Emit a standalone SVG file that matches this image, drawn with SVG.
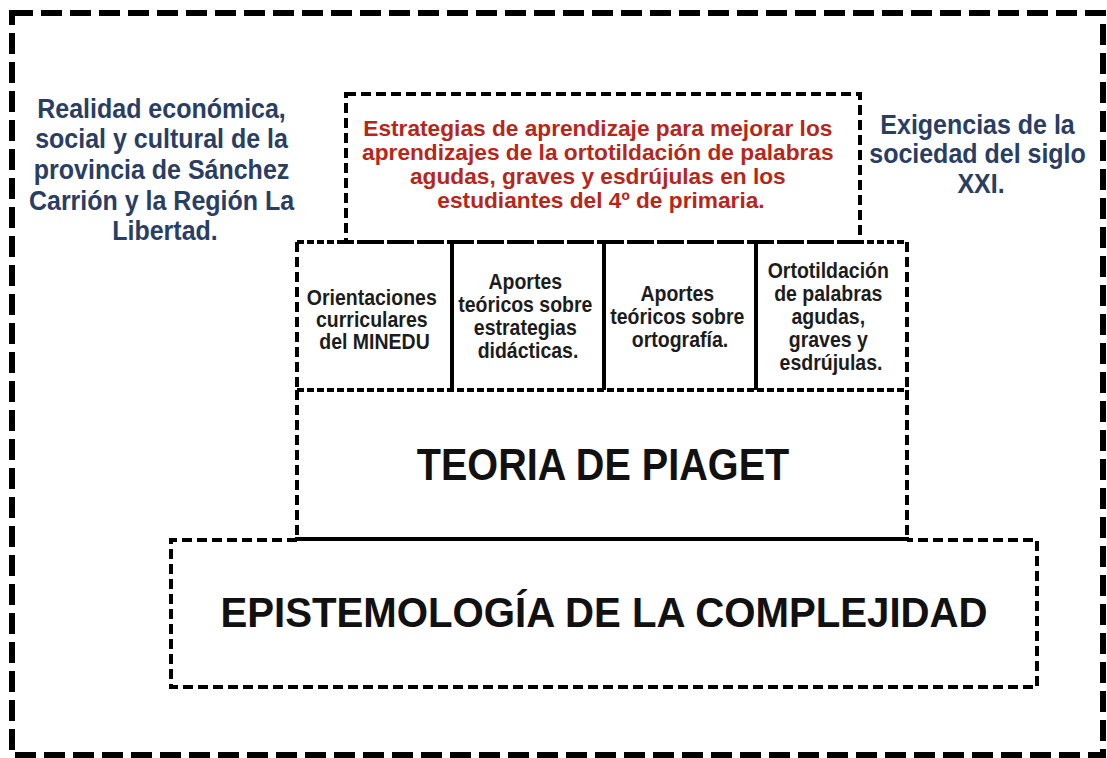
<svg xmlns="http://www.w3.org/2000/svg" width="1107" height="758" viewBox="0 0 1107 758">
<style>
.outer{fill:none;stroke:#000;stroke-width:6;stroke-dasharray:21 8}
.dash{fill:none;stroke:#000;stroke-width:4;stroke-dasharray:10 5}
.dense{fill:none;stroke:#000;stroke-width:4;stroke-dasharray:7 3}
.solid{fill:none;stroke:#000;stroke-width:4}
.t{font-family:"Liberation Sans",Arial,sans-serif;font-weight:bold;text-anchor:middle}
.blue{fill:#2a3e63;font-size:25px}
.red{fill:#b8261a;font-size:22.7px}
.mid{fill:#1c1c1c;font-size:19.5px}
.big{fill:#111;}
</style>
<rect width="1107" height="758" fill="#fff"/>
<rect id="frame" class="outer" x="12" y="13" width="1091" height="742"/>

<g id="contexto-izq">
<text class="t blue" transform="translate(165,118) scale(1,1.13)">
<tspan x="0" y="0">Realidad económica,</tspan>
<tspan x="0" y="27">social y cultural de la</tspan>
<tspan x="0" y="54">provincia de Sánchez</tspan>
<tspan x="0" y="81">Carrión y la Región La</tspan>
<tspan x="0" y="108">Libertad.</tspan>
</text>
</g>

<g id="contexto-der">
<text class="t blue" transform="translate(981,134) scale(1,1.13)">
<tspan x="0" y="0">Exigencias de la</tspan>
<tspan x="0" y="26">sociedad del siglo</tspan>
<tspan x="0" y="52">XXI.</tspan>
</text>
</g>

<g id="objetivo">
<rect x="346" y="94" width="514" height="148" fill="#ffff00" class="dash"/>
<text class="t red">
<tspan x="601" y="136">Estrategias de aprendizaje para mejorar los</tspan>
<tspan x="601" y="160">aprendizajes de la ortotildación de palabras</tspan>
<tspan x="601" y="184">agudas, graves y esdrújulas en los</tspan>
<tspan x="601" y="208">estudiantes del 4º de primaria.</tspan>
</text>
</g>

<g id="piaget">
<path class="dash" d="M297,390 V538 M907,390 V538"/>
<path class="solid" d="M295,539 H909"/>
<text class="t big" font-size="39.6" transform="translate(603,480) scale(1,1.14)">TEORIA DE PIAGET</text>
</g>

<g id="epistemologia">
<path class="dash" d="M297,540 H171 V687 H1037 V540 H907"/>
<text class="t big" font-size="40.2" transform="translate(604,627) scale(1,1.06)">EPISTEMOLOGÍA DE LA COMPLEJIDAD</text>
</g>

<g id="fila-media">
<path class="dense" d="M297,242 H907 M297,390 H907"/>
<path class="dash" d="M297,242 V390 M907,242 V390"/>
</g>

<g id="orientaciones">
<text class="t mid" transform="translate(374.5,305) scale(1,1.12)">
<tspan x="0" y="0">Orientaciones</tspan>
<tspan x="0" y="19.8">curriculares</tspan>
<tspan x="0" y="39.6">del MINEDU</tspan>
</text>
</g>

<g id="aportes-estrategias">
<path class="solid" d="M452,242 V390"/>
<text class="t mid" transform="translate(528,289) scale(1,1.12)">
<tspan x="0" y="0">Aportes</tspan>
<tspan x="0" y="20.5">teóricos sobre</tspan>
<tspan x="0" y="41">estrategias</tspan>
<tspan x="0" y="61.5">didácticas.</tspan>
</text>
</g>

<g id="aportes-ortografia">
<path class="solid" d="M604,242 V390"/>
<text class="t mid" transform="translate(680,301) scale(1,1.12)">
<tspan x="0" y="0">Aportes</tspan>
<tspan x="0" y="20.5">teóricos sobre</tspan>
<tspan x="0" y="41">ortografía.</tspan>
</text>
</g>

<g id="ortotildacion">
<path class="solid" d="M756,242 V390"/>
<text class="t mid" transform="translate(831,278) scale(1,1.12)">
<tspan x="0" y="0">Ortotildación</tspan>
<tspan x="0" y="20.5">de palabras</tspan>
<tspan x="0" y="41">agudas,</tspan>
<tspan x="0" y="61.5">graves y</tspan>
<tspan x="0" y="82">esdrújulas.</tspan>
</text>
</g>

<g id="connectors"></g>
</svg>
